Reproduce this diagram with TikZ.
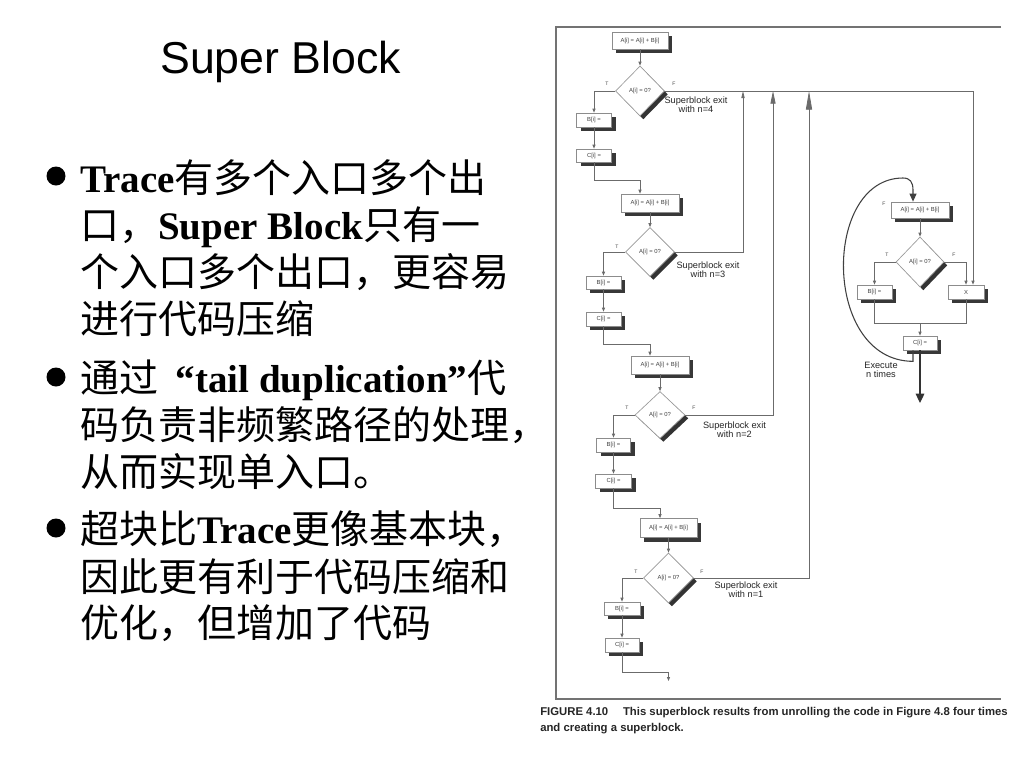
\documentclass[tikz,border=0pt]{standalone}
\usepackage{fontspec}
\setmainfont{Liberation Serif}
\setsansfont{Liberation Sans}
\newfontfamily\cjk{Noto Sans CJK SC}
\newfontfamily\arial{Liberation Sans}
\usetikzlibrary{shapes.geometric,arrows.meta,shadows}
\newcommand\boxfont{\arial\fontsize{4.4}{5}\selectfont}
\newcommand\tffont{\arial\fontsize{3.8}{4.5}\selectfont}
\newcommand\exitfont{\arial\fontsize{6.9}{6.6}\selectfont}
\newcommand\bulletfont{\fontsize{29.25}{35}\selectfont}
\tikzset{
  line/.style={draw=black!58, line width=0.6pt},
  arr/.style={line, -{Triangle[length=3pt,width=2.3pt]}},
  blk/.style 2 args={draw=black!45, fill=white, line width=0.5pt,
    minimum width=#1*0.75pt, minimum height=#2*0.75pt, inner sep=0pt,
    font=\boxfont, text=black!75,
    general shadow={fill=black!78, shadow xshift=3pt, shadow yshift=-3pt}},
  dia/.style 2 args={diamond, aspect=1, draw=black!40, fill=white, line width=0.5pt,
    minimum width=#1*0.75pt, minimum height=#2*0.75pt, inner sep=0pt,
    font=\boxfont, text=black!75,
    general shadow={fill=black!80, shadow xshift=2.5pt, shadow yshift=-2.5pt}},
  tf/.style={font=\tffont, text=black!70, inner sep=0pt},
  exitlbl/.style={font=\exitfont, text=black!85, align=center, inner sep=0pt},
  txt/.style={anchor=base west, font=\bulletfont, inner sep=0pt},
  dot/.style={circle, fill=black, inner sep=0pt, minimum size=19*0.75pt},
  frame/.style={draw=black!55, line width=1.1pt},
  captxt/.style={anchor=base west, inner sep=0pt, font=\arial\bfseries\fontsize{8.5}{10}\selectfont, text=black!85},
}
\begin{document}
\begin{tikzpicture}[x=0.75pt,y=-0.75pt]
\fill[white] (0,0) rectangle (1024,768);
\useasboundingbox (0,0) rectangle (1024,768);

% ---------- left text ----------
\node[anchor=base west, inner sep=0pt, font=\arial\fontsize{33.5}{40}\selectfont] (title) at (160,73) {Super Block};

\node[dot] (u1) at (56,176) {};
\node[txt] (l11) at (80,192) {\textbf{Trace}\cjk 有多个入口多个出};
\node[txt] (l12) at (80,239) {{\cjk 口，}\textbf{Super Block}\cjk 只有一};
\node[txt] (l13) at (80,286) {\cjk 个入口多个出口，更容易};
\node[txt] (l14) at (80,333) {\cjk 进行代码压缩};

\node[dot] (u2) at (56,377) {};
\node[txt] (l21) at (80,392) {{\cjk 通过}\hspace{0.45em}\textbf{“tail duplication”}\cjk 代};
\node[txt] (l22) at (80,439) {\cjk 码负责非频繁路径的处理，};
\node[txt] (l23) at (80,486) {\cjk 从而实现单入口。};

\node[dot] (u3) at (56,528) {};
\node[txt] (l31) at (80,543) {{\cjk 超块比}\textbf{Trace}\cjk 更像基本块，};
\node[txt] (l32) at (80,591) {\cjk 因此更有利于代码压缩和};
\node[txt] (l33) at (80,637) {\cjk 优化，但增加了代码};

% ---------- frame ----------
\draw[frame] (1001,27) -- (556,27) -- (556,699) -- (1001,699);

% ---------- superblock column ----------
\node[blk={56}{17}] (a1) at (640,40.5) {A[i] = A[i] + B[i]};
\node[dia={49}{50}] (d1) at (640,91) {A[i] = 0?};
\node[blk={35}{14}] (b1) at (594,120) {B[i] =};
\node[blk={35}{13}] (c1) at (594,155.5) {C[i] =};

\node[blk={58}{18}] (a2) at (650,203) {A[i] = A[i] + B[i]};
\node[dia={49}{49}] (d2) at (650,252) {A[i] = 0?};
\node[blk={35}{13}] (b2) at (603.5,282.5) {B[i] =};
\node[blk={35}{14}] (c2) at (603.5,319) {C[i] =};

\node[blk={58}{18}] (a3) at (660,365) {A[i] = A[i] + B[i]};
\node[dia={50}{47}] (d3) at (660,415) {A[i] = 0?};
\node[blk={34}{14}] (b3) at (613.5,445) {B[i] =};
\node[blk={36}{14}] (c3) at (613.5,481) {C[i] =};

\node[blk={57}{19}] (a4) at (668.5,528) {A[i] = A[i] + B[i]};
\node[dia={50}{50}] (d4) at (668.5,578) {A[i] = 0?};
\node[blk={36}{13}] (b4) at (622,608.5) {B[i] =};
\node[blk={34}{14}] (c4) at (622,645) {C[i] =};

% T / F labels
\node[tf] (t1) at (607,84) {T};
\node[tf] (f1) at (674,84) {F};
\node[tf] (t2) at (617,247) {T};
\node[tf] (t3) at (627,408) {T};
\node[tf] (f3) at (694,408) {F};
\node[tf] (t4) at (636,572) {T};
\node[tf] (f4) at (702,572) {F};

% exit labels
\node[exitlbl] (x4) at (696,105) {Superblock exit\\with n=4};
\node[exitlbl] (x3) at (708,270) {Superblock exit\\with n=3};
\node[exitlbl] (x2) at (734.5,430) {Superblock exit\\with n=2};
\node[exitlbl] (x1) at (746,590) {Superblock exit\\with n=1};

% ---------- right loop ----------
\node[blk={58}{16}] (ar) at (920,210) {A[i] = A[i] + B[i]};
\node[dia={48}{50}] (dr) at (920,262) {A[i] = 0?};
\node[blk={35}{14}] (br) at (874.5,292) {B[i] =};
\node[blk={36}{14}] (xr) at (966,292) {X};
\node[blk={34}{14}] (cr) at (920,343) {C[i] =};
\node[tf] (fr0) at (884,204) {F};
\node[tf] (tr) at (887,255) {T};
\node[tf] (fr) at (954,255) {F};
\node[exitlbl] (ex) at (881,370) {Execute\\n times};

\coordinate (e2) at (743,91);
\coordinate (e3) at (773,91);
\coordinate (e4) at (809,91);
\coordinate (out4) at (668.5,681);
\coordinate (outr) at (920,403);

% ---------- connectors ----------
\draw[arr] (a1.south) -- (d1.north);
\draw[arr] (d1.west) -| (b1.north);
\draw[arr] (b1.south) -- (c1.north);
\draw[arr] (c1.south) -- (c1.south |- 0,180) -| (a2.north -| d1.south);
\draw[arr] (d1.east) -| ([xshift=5.25pt]xr.north);

\draw[arr] (a2.south) -- (d2.north);
\draw[arr] (d2.west) -| (b2.north);
\draw[arr] (b2.south) -- (c2.north);
\draw[arr] (c2.south) -- (c2.south |- 0,344) -| (a3.north -| d2.south);
\draw[line, -{Triangle[length=5.25pt,width=2.4pt]}] (d2.east) -| (e2);

\draw[arr] (a3.south) -- (d3.north);
\draw[arr] (d3.west) -| (b3.north);
\draw[arr] (b3.south) -- (c3.north);
\draw[arr] (c3.south) -- (c3.south |- 0,508) -| (a4.north -| d3.south);
\draw[line, -{Triangle[length=9.5pt,width=3.8pt]}] (d3.east) -| (e3);

\draw[arr] (a4.south) -- (d4.north);
\draw[arr] (d4.west) -| (b4.north);
\draw[arr] (b4.south) -- (c4.north);
\draw[arr] (c4.south) -- (c4.south |- 0,672) -| (out4);
\draw[line, -{Triangle[length=14pt,width=4.6pt]}] (d4.east) -| (e4);

\draw[arr] (ar.south) -- (dr.north);
\draw[arr] (dr.west) -| (br.north);
\draw[arr] (dr.east) -| (xr.north);
\draw[line] (br.south) |- (xr.south |- 0,323) -- (xr.south);
\draw[arr] (cr.north |- 0,323) -- (cr.north);
\draw[draw=black!80, line width=0.8pt, -{Triangle[length=7pt,width=6.5pt]}] (cr.south) -- (outr);
\draw[draw=black!75, line width=0.8pt, -{Triangle[length=6pt,width=5.2pt]}]
  ([xshift=-5.25pt]cr.south) -- ++(0,11)
  .. controls (822,361) and (822,178) .. (903,178)
  .. controls (910,178) and (913,182) .. (913,190)
  -- ([xshift=-5.25pt]ar.north);

% ---------- caption ----------
\node[captxt] (cap1) at (540,715)
  {FIGURE 4.10\hspace{1.3em}This superblock results from unrolling the code in Figure 4.8 four times};
\node[captxt] (cap2) at (540,731)
  {and creating a superblock.};
\end{tikzpicture}
\end{document}
